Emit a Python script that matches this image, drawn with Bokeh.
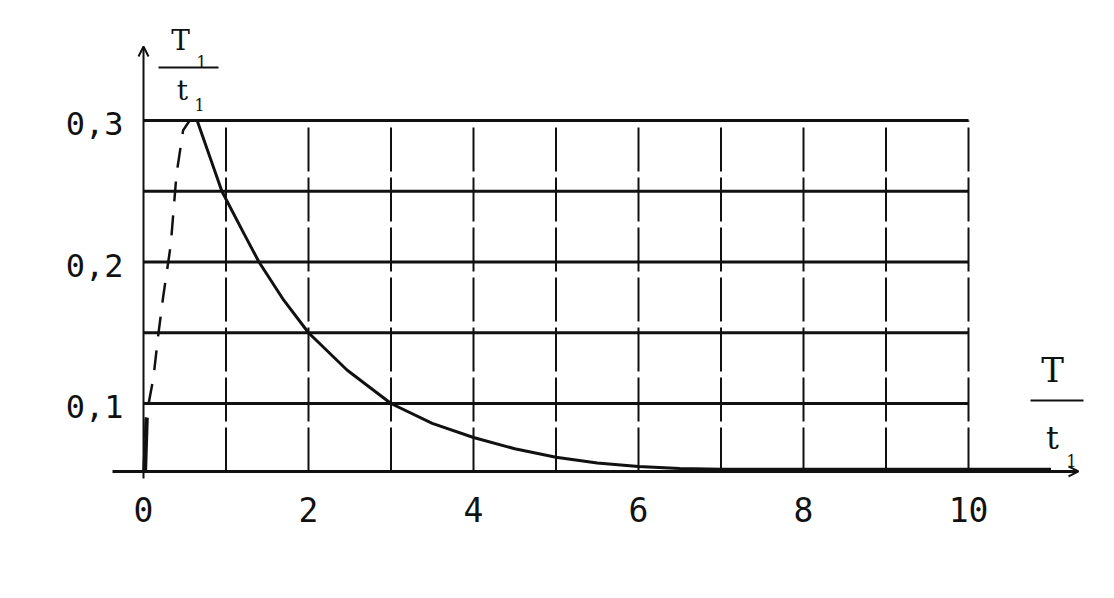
from bokeh.plotting import figure
from bokeh.models import Range1d, Arrow, OpenHead
from bokeh.core.properties import value
from bokeh.embed import file_html
from bokeh.resources import INLINE

# ---- data ----
x_tick_values = [0, 2, 4, 6, 8, 10]
x_tick_labels = ["0", "2", "4", "6", "8", "10"]
y_tick_values = [0.1, 0.2, 0.3]
y_tick_labels = ["0,1", "0,2", "0,3"]
h_grid_values = [0.1, 0.15, 0.2, 0.25, 0.3]
v_grid_values = [1, 2, 3, 4, 5, 6, 7, 8, 9, 10]

# rising (dashed) branch
rise_x = [0.0, 0.03, 0.12, 0.18, 0.24, 0.33, 0.40, 0.48, 0.56]
rise_y = [0.052, 0.09, 0.118, 0.149, 0.176, 0.212, 0.262, 0.293, 0.30]
# short heavy stroke at the foot of the rising branch
stub_x = [0.02, 0.04]
stub_y = [0.053, 0.09]
# decaying (solid) branch
decay_x = [0.65, 0.8, 0.95, 1.2, 1.4, 1.7, 2.0, 2.47, 3.0, 3.5, 4.0, 4.5,
           5.0, 5.5, 6.0, 6.5, 7.0, 11.0]
decay_y = [0.30, 0.275, 0.25, 0.222, 0.20, 0.173, 0.15, 0.1235, 0.10, 0.086,
           0.076, 0.068, 0.062, 0.058, 0.0555, 0.054, 0.0535, 0.0535]

BASE = 0.052  # level of the horizontal axis
XMAX = 10     # right edge of the grid
YMAX = 0.3    # top of the grid

def px(ix):   # image pixel -> data x (for label placement)
    return (ix - 143) / 82.5

def py(iy):   # image pixel -> data y
    return 0.1 + (403 - iy) / 1415.0

W, H = 1098, 582
X0, X1 = px(0), px(W)
Y0, Y1 = py(H), py(0)

INK = "#111111"

p = figure(width=W, height=H, output_backend="svg", toolbar_location=None,
           x_range=Range1d(X0, X1), y_range=Range1d(Y0, Y1),
           min_border=0, outline_line_color=None)
p.axis.visible = False
p.grid.visible = False
p.background_fill_color = "white"
p.border_fill_color = "white"

# horizontal grid lines (solid)
p.segment(x0=[0] * len(h_grid_values), y0=h_grid_values,
          x1=[XMAX] * len(h_grid_values), y1=h_grid_values,
          line_color=INK, line_width=3)
# vertical grid lines (broken)
p.segment(x0=v_grid_values, y0=[BASE] * len(v_grid_values),
          x1=v_grid_values, y1=[YMAX] * len(v_grid_values),
          line_color=INK, line_width=2, line_dash="44 6")

# axes
p.add_layout(Arrow(end=OpenHead(size=10, line_width=2, line_color=INK),
                   x_start=px(112), y_start=BASE, x_end=px(1078), y_end=BASE,
                   line_color=INK, line_width=3))
p.add_layout(Arrow(end=OpenHead(size=10, line_width=2, line_color=INK),
                   x_start=0, y_start=py(478), x_end=0, y_end=py(46),
                   line_color=INK, line_width=2))

# curve
p.line(rise_x, rise_y, line_color=INK, line_width=2.5, line_dash="20 14")
p.line(stub_x, stub_y, line_color=INK, line_width=4)
p.line(decay_x, decay_y, line_color=INK, line_width=3)

# tick labels
mono = value("DejaVu Sans Mono")
p.text(x=[px(123)] * len(y_tick_values), y=y_tick_values, text=y_tick_labels,
       text_font=mono, text_font_size="32px", text_align="right",
       text_baseline="middle", text_color=INK, y_offset=3)
p.text(x=x_tick_values, y=[py(509)] * len(x_tick_values), text=x_tick_labels,
       text_font=mono, text_font_size="33px", text_align="center",
       text_baseline="middle", text_color=INK)

# axis titles (fractions)
serif = value("DejaVu Serif")
p.text(x=[px(180), px(182), px(1052), px(1052)],
       y=[py(40), py(90), py(369), py(437)],
       text=["T", "t", "T", "t"], text_font=serif,
       text_font_size=["28px", "28px", "34px", "32px"],
       text_align="center", text_baseline="middle", text_color=INK)
p.text(x=[px(201), px(199), px(1071)], y=[py(61), py(104), py(460)],
       text=["1", "1", "1"], text_font=serif, text_font_size="16px",
       text_align="center", text_baseline="middle", text_color=INK)
p.segment(x0=[px(158), px(1030)], y0=[py(67), py(400)],
          x1=[px(218), px(1083)], y1=[py(67), py(400)],
          line_color=INK, line_width=2)

open("out.html", "w").write(file_html(p, INLINE))
